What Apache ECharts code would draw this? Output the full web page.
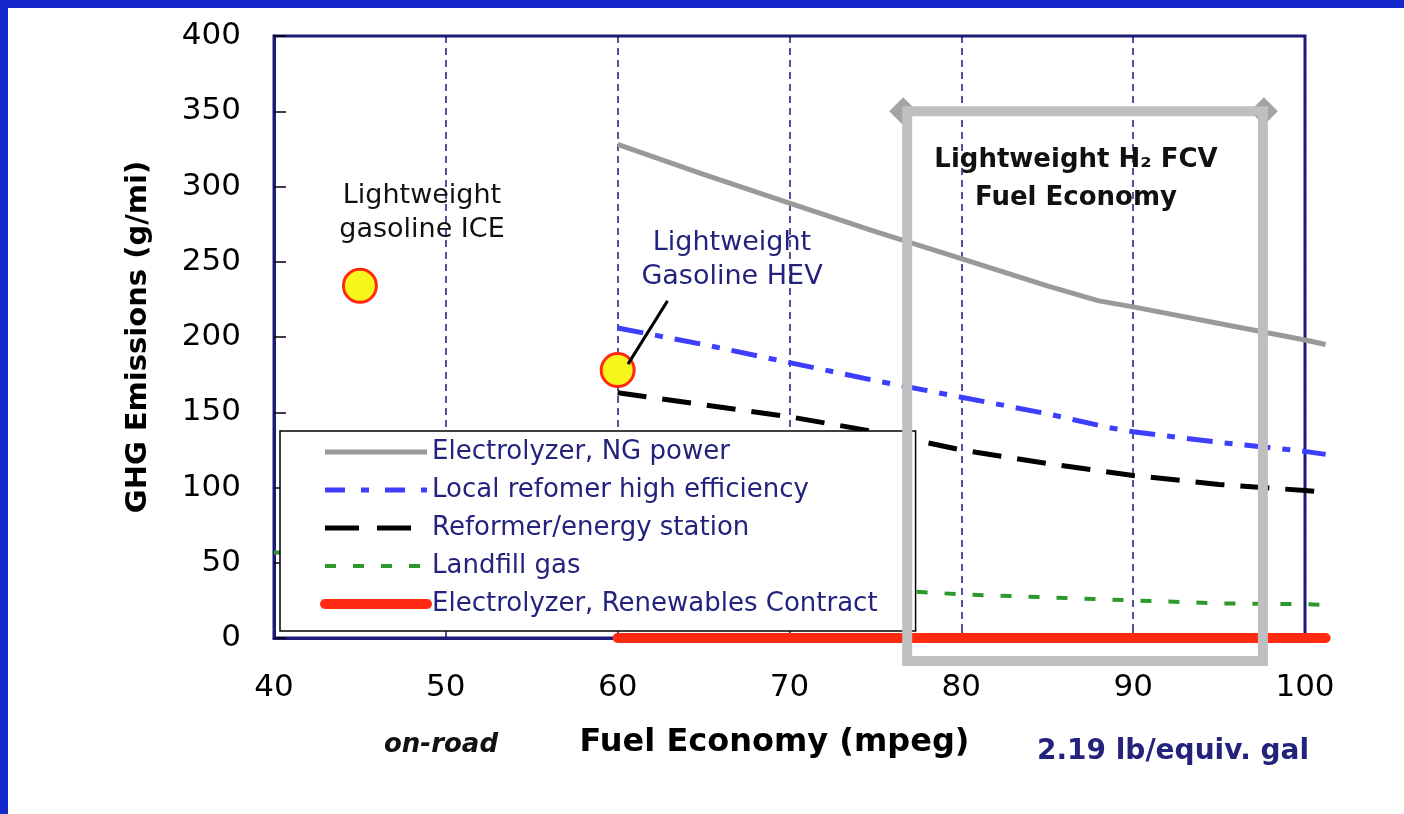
<!DOCTYPE html>
<html>
<head>
<meta charset="utf-8">
<script src="https://cdn.jsdelivr.net/npm/echarts@6/dist/echarts.min.js"></script>
<style>
  html, body { margin: 0; padding: 0; background: #ffffff; }
  #chart { width: 1404px; height: 814px; }
</style>
</head>
<body>
<div id="chart"></div>
<script>
// ---- data (fuel economy in mpeg, GHG emissions in g/mi) ----
const xTicks = [40, 50, 60, 70, 80, 90, 100];
const yTicks = [0, 50, 100, 150, 200, 250, 300, 350, 400];
// the curves run a little past the last tick
const curveEndX = 101.2;

const seriesNames = [
  'Electrolyzer, NG power',
  'Local refomer high efficiency',
  'Reformer/energy station',
  'Landfill gas',
  'Electrolyzer, Renewables Contract'
];

const electrolyzerNG = [[60, 328], [65, 308], [70, 289], [75, 270], [80, 252], [85, 234], [88, 224], [90, 220], [95, 209], [100, 198], [101.2, 195]];
const localReformer  = [[60, 206], [65, 195], [70, 183], [75, 171], [80, 160], [85, 149], [88.5, 140], [90, 137], [95, 130], [100, 124], [101.2, 122]];
const reformerStation = [[60, 163], [65, 155], [70, 147], [75, 137], [80, 125], [85, 116], [90, 108], [95, 102], [100, 98], [101.2, 97]];
const landfillGas    = [[40, 57], [50, 46], [60, 40], [70, 34], [77, 31], [80, 29], [85, 27], [90, 25], [95, 23], [100, 22.5], [101.2, 22]];
const renewables     = [[60, 0], [101.2, 0]];

const gasolineICE = [[45, 234]];
const gasolineHEV = [[60, 178]];

// callout from the HEV marker to its label, and the FCV fuel-economy frame
const hevLeader = [[60.6, 182], [62.9, 224]];
const fcvFrame = { xFrom: 76.85, xTo: 97.55, yFrom: -15.3, yTo: 350 };

// ---- styling ----
const FONT = '"DejaVu Sans", "Liberation Sans", sans-serif';
const NAVY = '#1d1a78';
const TEXT_NAVY = '#23237e';

const lineStyles = [
  { color: '#999999', width: 5, type: 'solid', cap: 'butt' },
  { color: '#3e3eff', width: 5, type: [26, 12, 8, 12], cap: 'butt' },
  { color: '#000000', width: 5, type: [29, 16], cap: 'butt' },
  { color: '#2b9a2b', width: 4, type: [11, 17], cap: 'butt' },
  { color: '#ff2a12', width: 10, type: 'solid', cap: 'round' }
];
// dash patterns of the short legend samples
const legendDash = ['solid', [20, 16, 8, 16], [34, 18], [11, 17], 'solid'];

// frame geometry: the axis frame ends at the last tick, the data area runs to curveEndX
const G = { left: 274, top: 36, right: 99, bottom: 176, width: 1404 };
const frameWidth = G.width - G.left - G.right;
const dataWidth = frameWidth * (curveEndX - xTicks[0]) / (xTicks[xTicks.length - 1] - xTicks[0]);

const chart = echarts.init(document.getElementById('chart'), null, { renderer: 'canvas' });

function lineSeries(i, data) {
  const s = lineStyles[i];
  return {
    name: seriesNames[i],
    type: 'line',
    xAxisIndex: 1, yAxisIndex: 1,
    data: data,
    symbol: 'none',
    clip: false,
    z: 3,
    lineStyle: { color: s.color, width: s.width, type: s.type, cap: s.cap },
    itemStyle: { color: s.color },
    emphasis: { disabled: true }
  };
}

function markerSeries(name, data) {
  return {
    name: name,
    type: 'scatter',
    xAxisIndex: 1, yAxisIndex: 1,
    data: data,
    symbol: 'circle',
    symbolSize: 33,
    z: 5,
    itemStyle: { color: '#f6f61c', borderColor: '#ff2a12', borderWidth: 3, opacity: 1 },
    emphasis: { disabled: true }
  };
}

const hiddenAxis = { show: false, axisLine: { show: false }, axisTick: { show: false }, axisLabel: { show: false }, splitLine: { show: false } };

const option = {
  backgroundColor: '#ffffff',
  animation: false,
  grid: [
    {
      left: G.left, top: G.top, right: G.right, bottom: G.bottom,
      show: true, borderColor: NAVY, borderWidth: 3, backgroundColor: 'transparent'
    },
    {
      left: G.left, top: G.top, width: dataWidth, bottom: G.bottom,
      show: false
    }
  ],
  xAxis: [
    {
      type: 'value', gridIndex: 0,
      min: xTicks[0], max: xTicks[xTicks.length - 1], interval: 10,
      name: 'Fuel Economy (mpeg)',
      nameLocation: 'middle',
      nameGap: 89,
      nameTextStyle: { fontFamily: FONT, fontSize: 32, fontWeight: 'bold', color: '#000', padding: [0, 30, 0, 0] },
      axisLine: { show: true, lineStyle: { color: NAVY, width: 3 } },
      axisTick: { show: true, inside: true, length: 7, lineStyle: { color: NAVY, width: 1.5 } },
      axisLabel: { fontFamily: FONT, fontSize: 31, color: '#000', margin: 34 },
      splitLine: { show: true, lineStyle: { color: NAVY, width: 1.5, type: [7, 5] } }
    },
    Object.assign({ type: 'value', gridIndex: 1, min: xTicks[0], max: curveEndX }, hiddenAxis)
  ],
  yAxis: [
    {
      type: 'value', gridIndex: 0,
      min: yTicks[0], max: yTicks[yTicks.length - 1], interval: 50,
      name: 'GHG Emissions (g/mi)',
      nameLocation: 'middle',
      nameGap: 121,
      nameTextStyle: { fontFamily: FONT, fontSize: 29, fontWeight: 'bold', color: '#000' },
      axisLine: { show: true, lineStyle: { color: NAVY, width: 3 } },
      axisTick: { show: true, inside: true, length: 12, lineStyle: { color: '#000', width: 1.5 } },
      axisLabel: { fontFamily: FONT, fontSize: 31, color: '#000', margin: 33 },
      splitLine: { show: false }
    },
    Object.assign({ type: 'value', gridIndex: 1, min: yTicks[0], max: yTicks[yTicks.length - 1] }, hiddenAxis)
  ],
  legend: {
    data: seriesNames.map((name, i) => ({
      name: name,
      itemStyle: { color: 'transparent', borderWidth: 0, opacity: 0 },
      lineStyle: { color: lineStyles[i].color, width: lineStyles[i].width, type: legendDash[i], cap: lineStyles[i].cap, opacity: 1 }
    })),
    orient: 'vertical',
    left: 280, top: 431,
    padding: [8, 38, 14, 40],
    itemWidth: 102, itemHeight: 14, itemGap: 12,
    backgroundColor: '#ffffff',
    borderColor: '#000000', borderWidth: 1.5, borderRadius: 0,
    selectedMode: false,
    textStyle: { fontFamily: FONT, fontSize: 26, color: TEXT_NAVY }
  },
  series: [
    lineSeries(0, electrolyzerNG),
    lineSeries(1, localReformer),
    lineSeries(2, reformerStation),
    lineSeries(3, landfillGas),
    lineSeries(4, renewables),
    markerSeries('Lightweight gasoline ICE', gasolineICE),
    markerSeries('Lightweight Gasoline HEV', gasolineHEV),
    {
      // callout line to the HEV label and the FCV fuel-economy frame
      type: 'custom',
      name: 'annotations',
      xAxisIndex: 1, yAxisIndex: 1,
      data: [[80, 100]],
      clip: false,
      silent: true,
      z: 10,
      renderItem: function (params, api) {
        const a = api.coord(hevLeader[0]);
        const b = api.coord(hevLeader[1]);
        const tl = api.coord([fcvFrame.xFrom, fcvFrame.yTo]);
        const br = api.coord([fcvFrame.xTo, fcvFrame.yFrom]);
        const d = 14;
        const diamond = (cx, cy) => ({
          type: 'polygon',
          shape: { points: [[cx - d, cy], [cx, cy - d], [cx + d, cy], [cx, cy + d]] },
          style: { fill: '#a4a4a4' }
        });
        return {
          type: 'group',
          children: [
            { type: 'line', shape: { x1: a[0], y1: a[1], x2: b[0], y2: b[1] }, style: { stroke: '#000', lineWidth: 3 } },
            diamond(tl[0] - 4, tl[1]),
            diamond(br[0] + 1, tl[1]),
            {
              type: 'rect',
              shape: { x: tl[0], y: tl[1], width: br[0] - tl[0], height: br[1] - tl[1] },
              style: { fill: 'none', stroke: '#bfbfbf', lineWidth: 10 }
            }
          ]
        };
      }
    }
  ],
  graphic: [
    // slide frame
    { type: 'rect', left: 0, top: 0, shape: { width: 1404, height: 8 }, style: { fill: '#1428cc' }, z: 100 },
    { type: 'rect', left: 0, top: 0, shape: { width: 8, height: 814 }, style: { fill: '#1428cc' }, z: 100 },
    // vehicle labels
    {
      type: 'text', x: 422, y: 213, z: 20,
      style: { text: 'Lightweight\ngasoline ICE', fontFamily: FONT, fontSize: 27, fill: '#111', align: 'center', verticalAlign: 'middle', lineHeight: 34 }
    },
    {
      type: 'text', x: 732, y: 260, z: 20,
      style: { text: 'Lightweight\nGasoline HEV', fontFamily: FONT, fontSize: 27, fill: TEXT_NAVY, align: 'center', verticalAlign: 'middle', lineHeight: 34 }
    },
    {
      type: 'text', x: 1076, y: 179, z: 20,
      style: { text: 'Lightweight H\u2082 FCV\nFuel Economy', fontFamily: FONT, fontSize: 26, fontWeight: 'bold', fill: '#111', align: 'center', verticalAlign: 'middle', lineHeight: 38 }
    },
    // notes under the axis
    {
      type: 'text', x: 441, y: 745, z: 20,
      style: { text: 'on-road', fontFamily: FONT, fontSize: 26, fontWeight: 'bold', fontStyle: 'italic', fill: '#111', align: 'center', verticalAlign: 'middle' }
    },
    {
      type: 'text', x: 1173, y: 752, z: 20,
      style: { text: '2.19 lb/equiv. gal', fontFamily: FONT, fontSize: 28, fontWeight: 'bold', fill: TEXT_NAVY, align: 'center', verticalAlign: 'middle' }
    }
  ]
};

chart.setOption(option);
</script>
</body>
</html>
